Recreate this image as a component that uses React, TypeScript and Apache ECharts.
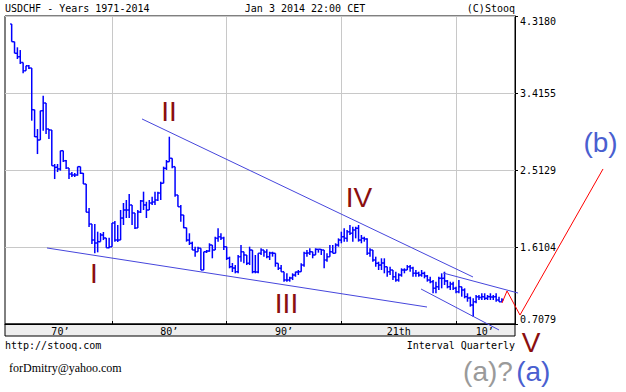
import React, { useEffect, useRef } from "react";
import * as echarts from "echarts";

// Quarterly USDCHF bars 1971-2014 (open of each bar = previous close)
const firstOpen = 4.224;
const highs = [
  4.224, 4.017, 3.951, 3.919, 3.755, 3.735, 3.744, 3.708, 3.216, 2.993,
  3.208, 3.384, 3.298, 2.993, 2.982, 2.583, 2.583, 2.739, 2.739, 2.630,
  2.536, 2.489, 2.478, 2.552, 2.552, 2.478, 2.349, 2.068, 1.880, 1.880,
  1.790, 1.774, 1.786, 1.716, 1.719, 1.892, 1.915, 1.868, 2.044, 2.126,
  2.161, 2.232, 2.103, 2.009, 2.044, 2.161, 2.259, 2.141, 2.161, 2.200,
  2.259, 2.259, 2.376, 2.552, 2.630, 2.903, 2.650, 2.552, 2.220, 2.103,
  1.986, 1.830, 1.771, 1.673, 1.614, 1.614, 1.595, 1.555, 1.575, 1.654,
  1.634, 1.731, 1.830, 1.771, 1.731, 1.614, 1.497, 1.423, 1.399, 1.517,
  1.634, 1.555, 1.517, 1.614, 1.575, 1.517, 1.537, 1.595, 1.575, 1.583,
  1.555, 1.555, 1.537, 1.419, 1.399, 1.321, 1.302, 1.262, 1.302, 1.321,
  1.341, 1.419, 1.555, 1.575, 1.595, 1.555, 1.595, 1.583, 1.587, 1.575,
  1.537, 1.634, 1.634, 1.654, 1.712, 1.790, 1.830, 1.810, 1.868, 1.848,
  1.848, 1.868, 1.751, 1.731, 1.712, 1.595, 1.575, 1.497, 1.438, 1.478,
  1.478, 1.379, 1.379, 1.341, 1.321, 1.302, 1.361, 1.361, 1.399, 1.399,
  1.379, 1.341, 1.321, 1.341, 1.321, 1.282, 1.262, 1.223, 1.204, 1.262,
  1.302, 1.321, 1.223, 1.204, 1.204, 1.145, 1.223, 1.145, 1.126, 1.068,
  1.028, 1.009, 1.048, 1.048, 1.068, 1.068, 1.048, 1.068, 1.048, 1.068,
  1.028, 1.009,
];
const lows = [
  4.017, 3.881, 3.814, 3.755, 3.646, 3.685, 3.697, 3.091, 2.900, 2.700,
  2.974, 2.974, 2.935, 2.876, 2.563, 2.407, 2.489, 2.505, 2.607, 2.525,
  2.407, 2.431, 2.431, 2.446, 2.466, 2.349, 2.017, 1.845, 1.645, 1.537,
  1.548, 1.692, 1.692, 1.602, 1.595, 1.614, 1.673, 1.669, 1.692, 1.868,
  1.950, 1.950, 1.868, 1.821, 1.857, 2.009, 2.044, 1.950, 2.044, 2.103,
  2.103, 2.150, 2.161, 2.357, 2.513, 2.610, 2.533, 2.200, 2.083, 1.907,
  1.830, 1.673, 1.634, 1.575, 1.497, 1.555, 1.341, 1.341, 1.540, 1.555,
  1.478, 1.575, 1.673, 1.692, 1.575, 1.458, 1.361, 1.317, 1.302, 1.302,
  1.438, 1.419, 1.399, 1.399, 1.302, 1.302, 1.302, 1.517, 1.497, 1.478,
  1.458, 1.497, 1.379, 1.341, 1.321, 1.204, 1.204, 1.204, 1.223, 1.262,
  1.282, 1.321, 1.379, 1.497, 1.517, 1.478, 1.517, 1.544, 1.517, 1.361,
  1.438, 1.497, 1.537, 1.555, 1.614, 1.654, 1.673, 1.673, 1.751, 1.673,
  1.712, 1.673, 1.654, 1.673, 1.517, 1.497, 1.438, 1.379, 1.341, 1.341,
  1.302, 1.262, 1.282, 1.223, 1.204, 1.204, 1.262, 1.302, 1.341, 1.321,
  1.262, 1.262, 1.262, 1.262, 1.243, 1.204, 1.185, 1.068, 1.068, 1.106,
  1.126, 1.165, 1.126, 1.106, 1.106, 1.068, 1.068, 1.028, 1.009, 0.969,
  0.911, 0.793, 0.950, 0.989, 0.989, 0.989, 0.989, 0.989, 0.989, 0.969,
  0.969, 0.969,
];
const closes = [
  4.017, 3.881, 3.841, 3.773, 3.677, 3.735, 3.708, 3.220, 2.903, 2.865,
  3.208, 3.298, 2.993, 2.982, 2.563, 2.544, 2.525, 2.739, 2.622, 2.536,
  2.466, 2.454, 2.454, 2.552, 2.474, 2.349, 2.017, 1.880, 1.692, 1.657,
  1.673, 1.751, 1.716, 1.602, 1.614, 1.892, 1.692, 1.692, 1.950, 2.044,
  2.044, 2.103, 2.009, 1.833, 2.021, 2.150, 2.103, 2.044, 2.126, 2.138,
  2.161, 2.243, 2.357, 2.533, 2.610, 2.650, 2.552, 2.220, 2.083, 1.986,
  1.837, 1.692, 1.654, 1.575, 1.555, 1.595, 1.341, 1.555, 1.563, 1.634,
  1.575, 1.712, 1.731, 1.716, 1.614, 1.478, 1.379, 1.364, 1.321, 1.497,
  1.555, 1.517, 1.419, 1.575, 1.321, 1.317, 1.537, 1.575, 1.552, 1.497,
  1.540, 1.537, 1.419, 1.361, 1.321, 1.223, 1.223, 1.247, 1.282, 1.317,
  1.321, 1.399, 1.537, 1.540, 1.555, 1.517, 1.583, 1.583, 1.575, 1.458,
  1.497, 1.555, 1.537, 1.634, 1.692, 1.731, 1.712, 1.790, 1.771, 1.810,
  1.830, 1.692, 1.712, 1.704, 1.537, 1.575, 1.458, 1.419, 1.399, 1.423,
  1.379, 1.321, 1.341, 1.262, 1.223, 1.282, 1.341, 1.341, 1.379, 1.364,
  1.302, 1.302, 1.282, 1.302, 1.270, 1.223, 1.204, 1.126, 1.145, 1.243,
  1.243, 1.212, 1.145, 1.177, 1.126, 1.086, 1.145, 1.106, 1.028, 1.013,
  0.930, 0.969, 1.028, 1.019, 1.028, 1.009, 1.028, 1.024, 1.028, 0.989,
  0.969, 0.989,
];
const firstBarYear = 1971.25;
const barStep = 0.25;

// axes
const yMin = 0.7079;
const yMax = 4.318;
const yTickLabels = ["0.7079", "1.6104", "2.5129", "3.4155", "4.3180"];
const xMin = 1970.669;
const xMax = 2015.144;
const decadeLines = [1980, 1990, 2000, 2010];
const xLabelYears = [1975.5, 1985, 1995, 2005, 2012.5];
const xLabels = ["70’", "80’", "90’", "21th", "10’"];

// annotation lines [year, value]
const upperWedge = [[1982.62, 3.111], [2011.48, 1.259]];
const lowerWedge = [[1974.33, 1.599], [2007.47, 0.907]];
const channelLower = [[2006.95, 1.118], [2013.75, 0.638]];
const channelUpper = [[2008.87, 1.306], [2015.41, 1.071]];
const projection = [[2014.01, 0.954], [2014.45, 1.095], [2015.58, 0.813], [2022.82, 2.525]];

const MONO = '"DejaVu Sans Mono", monospace';
const SANS = '"Liberation Sans", Arial, sans-serif';

export default function App() {
  const ref = useRef<HTMLDivElement>(null);
  useEffect(() => {
    if (!ref.current) return;
    const chart = echarts.init(ref.current, null, { renderer: "svg" });
    const yInterval = (yMax - yMin) / (yTickLabels.length - 1);
    const ohlc = closes.map((c, k) => {
      const o = k === 0 ? firstOpen : closes[k - 1];
      return [firstBarYear + barStep * k, o, Math.max(highs[k], o, c), Math.min(lows[k], o, c), c];
    });
    chart.setOption({
      animation: false,
      backgroundColor: "#ffffff",
      grid: {
        left: 5,
        right: 111,
        top: 16,
        bottom: 68,
        show: true,
        borderColor: "#000",
        borderWidth: 1,
        backgroundColor: "transparent",
      },
      xAxis: {
        type: "value",
        min: xMin,
        max: xMax,
        axisLine: { show: true, lineStyle: { color: "#000", width: 1 } },
        axisTick: { show: true, inside: true, length: 3, customValues: decadeLines, lineStyle: { color: "#000" } },
        splitLine: { show: true, lineStyle: { color: "#c8c8c8", width: 1 } },
        axisLabel: {
          customValues: xLabelYears,
          margin: 2,
          fontFamily: MONO,
          fontSize: 10,
          color: "#000",
          formatter: (v: number) => {
            let best = 0;
            xLabelYears.forEach((y, i) => {
              if (Math.abs(y - v) < Math.abs(xLabelYears[best] - v)) best = i;
            });
            return xLabels[best];
          },
        },
      },
      yAxis: {
        type: "value",
        position: "right",
        min: yMin,
        max: yMax,
        interval: yInterval,
        axisLine: { show: true, lineStyle: { color: "#000", width: 1 } },
        axisTick: { show: true, length: 3, lineStyle: { color: "#000" } },
        splitLine: { show: true, lineStyle: { color: "#c8c8c8", width: 1 } },
        axisLabel: {
          margin: 5,
          fontFamily: MONO,
          fontSize: 10,
          color: "#000",
          verticalAlignMaxLabel: "top",
          verticalAlignMinLabel: "bottom",
          formatter: (v: number) => yTickLabels[Math.round((v - yMin) / yInterval)],
        },
      },
      series: [
        {
          type: "custom",
          data: ohlc,
          encode: { x: 0, y: [1, 2, 3, 4] },
          silent: true,
          z: 3,
          renderItem: (params: any, api: any) => {
            const x = api.value(0);
            const pO = api.coord([x, api.value(1)]);
            const pH = api.coord([x, api.value(2)]);
            const pL = api.coord([x, api.value(3)]);
            const pC = api.coord([x, api.value(4)]);
            const style = { stroke: "#0000ff", lineWidth: 1.5 };
            return {
              type: "group",
              children: [
                { type: "line", shape: { x1: pH[0], y1: pH[1], x2: pL[0], y2: pL[1] }, style },
                { type: "line", shape: { x1: pO[0] - 1.5, y1: pO[1], x2: pO[0], y2: pO[1] }, style },
                { type: "line", shape: { x1: pC[0], y1: pC[1], x2: pC[0] + 1.5, y2: pC[1] }, style },
              ],
            };
          },
        },
      ],
    });

    // annotation lines placed through the chart's own scales (they run outside the plot)
    const toPx = (pts: number[][]) => pts.map((p) => chart.convertToPixel({ gridIndex: 0 }, p) as number[]);
    const trend = (pts: number[][], color: string) => ({
      type: "polyline",
      z: 50,
      silent: true,
      shape: { points: toPx(pts) },
      style: { stroke: color, lineWidth: 1, fill: "none" },
    });
    const numeral = (text: string, x: number, y: number, fill: string) => ({
      type: "text",
      x,
      y,
      z: 100,
      style: { text, font: `28px ${SANS}`, fill, align: "center", verticalAlign: "middle", lineHeight: 20 },
    });
    const small = (text: string, x: number, y: number, align: string) => ({
      type: "text",
      x,
      y,
      z: 100,
      style: { text, font: `10px ${MONO}`, fill: "#000", align, verticalAlign: "middle" },
    });
    chart.setOption({
      graphic: [
        {
          type: "rect",
          z: -1,
          shape: { x: 5, y: 324, width: 510, height: 12 },
          style: { fill: "#eeeeee", stroke: "#000", lineWidth: 1 },
        },
        trend(upperWedge, "#4646dc"),
        trend(lowerWedge, "#4646dc"),
        trend(channelLower, "#4646dc"),
        trend(channelUpper, "#4646dc"),
        trend(projection, "#ff0000"),
        small("USDCHF - Years 1971-2014", 5, 8, "left"),
        small("Jan 3 2014 22:00 CET", 305, 8, "center"),
        small("(C)Stooq", 515, 8, "right"),
        small("http://stooq.com", 5, 345, "left"),
        small("Interval Quarterly", 515, 345, "right"),
        {
          type: "text", x: 9, y: 368, z: 100,
          style: { text: "forDmitry@yahoo.com", font: `12px "Liberation Serif", serif`, fill: "#000", align: "left", verticalAlign: "middle" },
        },
        numeral("I", 94, 273, "#8b0f0f"),
        numeral("II", 169, 111.5, "#8b0f0f"),
        numeral("III", 286.5, 303, "#8b0f0f"),
        numeral("IV", 359, 197.5, "#8b0f0f"),
        numeral("V", 531, 342.5, "#8b0f0f"),
        numeral("(b)", 600.5, 142, "#4a5fd0"),
        numeral("(a)?", 488, 371, "#9a9a9a"),
        numeral("(a)", 533.3, 371, "#4a5fd0"),
      ],
    });
    return () => chart.dispose();
  }, []);
  return (
    <div
      ref={ref}
      style={{ position: "fixed", left: 0, top: 0, width: 626, height: 392, background: "#fff" }}
    />
  );
}
